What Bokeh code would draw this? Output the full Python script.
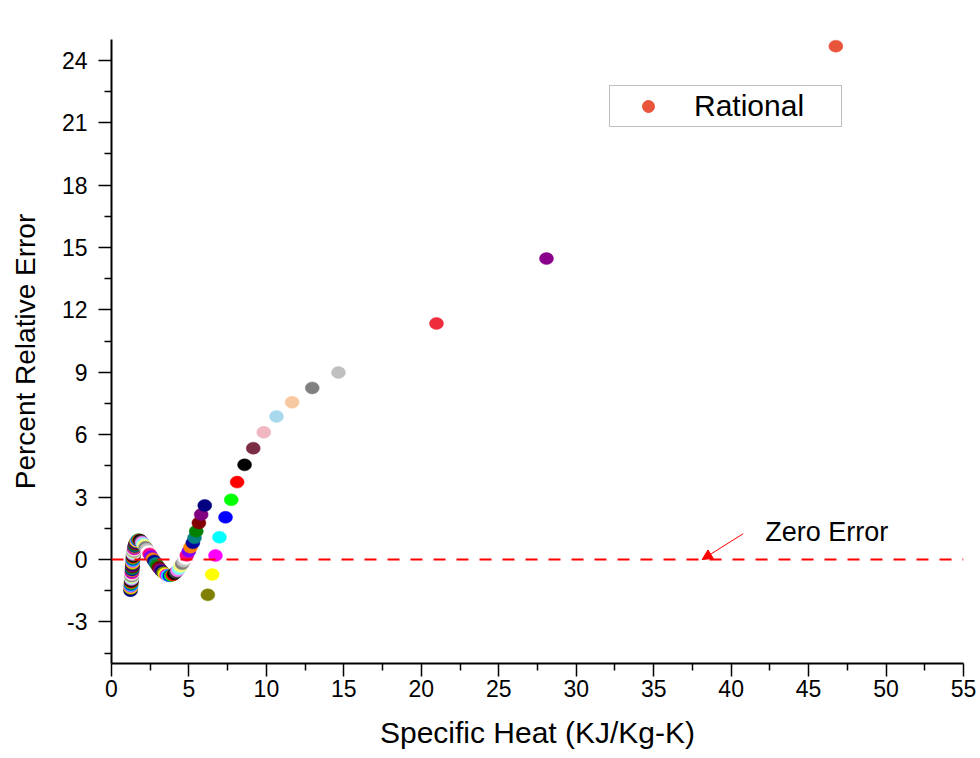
from bokeh.plotting import figure
from bokeh.models import (Range1d, FixedTicker, Span, Arrow, NormalHead, Label,
                          Legend, LegendItem, ColumnDataSource)
from bokeh.embed import file_html
from bokeh.resources import INLINE

# ---------------- data ----------------
# high-error points (x ascending)
outlier_x = [9.15, 9.83, 10.65, 11.66, 12.96, 14.65, 20.98, 28.08, 46.76]
outlier_y = [5.35, 6.12, 6.875, 7.56, 8.25, 8.99, 11.35, 14.47, 24.68]
outlier_colors = ["#7B2D43", "#F0B7C0", "#A8D8EC", "#F8C8A0", "#808080",
                  "#C0C0C0", "#EE2C3C", "#8B008B", "#E8553B"]

# main sequence of points, ordered by decreasing specific heat
seq_x = [8.59, 8.11, 7.73, 7.36, 6.97, 6.71, 6.50, 6.22,
         6.02, 5.79, 5.64, 5.47, 5.36, 5.25, 5.10, 4.99, 4.86, 4.76,
         4.66, 4.56, 4.46, 4.36, 4.26, 4.16, 4.06, 3.96, 3.86, 3.76,
         3.66, 3.56, 3.46, 3.36, 3.26, 3.16, 3.06, 2.96, 2.86, 2.76,
         2.66, 2.56, 2.46, 2.37, 2.28, 2.20, 2.12, 2.05, 1.98, 1.92,
         1.86, 1.80, 1.75,
         1.72, 1.69, 1.66, 1.63, 1.61, 1.59, 1.57, 1.55, 1.53, 1.52,
         1.50, 1.49, 1.48, 1.47, 1.46, 1.45, 1.44, 1.43, 1.42,
         1.41, 1.40, 1.40, 1.39, 1.39, 1.38, 1.38, 1.37, 1.37, 1.36,
         1.36, 1.35, 1.35, 1.34, 1.34, 1.33, 1.33, 1.32, 1.32, 1.31,
         1.31, 1.30, 1.30, 1.29, 1.29, 1.28, 1.28, 1.27, 1.27, 1.26,
         1.26, 1.25, 1.25, 1.24, 1.23]
seq_y = [4.55, 3.72, 2.87, 2.03, 1.07, 0.19, -0.72, -1.70,
         2.60, 2.16, 1.76, 1.36, 1.04, 0.80, 0.59, 0.40, 0.20, 0.05,
         -0.08, -0.21, -0.33, -0.44, -0.54, -0.62, -0.69, -0.74, -0.77, -0.78,
         -0.77, -0.74, -0.69, -0.63, -0.56, -0.48, -0.39, -0.29, -0.18, -0.07,
         0.04, 0.15, 0.27, 0.38, 0.49, 0.59, 0.68, 0.76, 0.83, 0.88,
         0.92, 0.94, 0.95,
         0.94, 0.93, 0.91, 0.88, 0.85, 0.82, 0.78, 0.74, 0.70, 0.66,
         0.62, 0.58, 0.54, 0.50, 0.46, 0.42, 0.38, 0.34, 0.30,
         0.25, 0.20, 0.15, 0.10, 0.05, 0.00, -0.05, -0.10, -0.15, -0.20,
         -0.25, -0.30, -0.35, -0.40, -0.45, -0.50, -0.55, -0.60, -0.65, -0.70,
         -0.75, -0.80, -0.85, -0.90, -0.95, -1.00, -1.05, -1.10, -1.15, -1.20,
         -1.25, -1.30, -1.35, -1.40, -1.50]

# Origin-style colour increment list
palette = ["#000000", "#FF0000", "#00FF00", "#0000FF", "#00FFFF", "#FF00FF",
           "#FFFF00", "#808000", "#000080", "#800080", "#800000", "#008000",
           "#008080", "#0000A0", "#FF8000", "#8000FF", "#FF0080", "#FFFFFF",
           "#C0C0C0", "#808080", "#FFFF80", "#80FFFF", "#FF80FF", "#404040"]

x_ticks = [0, 5, 10, 15, 20, 25, 30, 35, 40, 45, 50, 55]
x_minor = [2.5, 7.5, 12.5, 17.5, 22.5, 27.5, 32.5, 37.5, 42.5, 47.5, 52.5]
y_ticks = [-3, 0, 3, 6, 9, 12, 15, 18, 21, 24]
y_minor = [-4.5, -1.5, 1.5, 4.5, 7.5, 10.5, 13.5, 16.5, 19.5, 22.5]
y_tick_labels = {t: str(t) for t in y_ticks}   # plain hyphen-minus as in the original

series_name = "Rational"
legend_color = "#E8553B"
zero_level = 0
arrow_from = (40.78, 1.24)
arrow_to = (38.13, 0.0)
note_pos = (42.2, 1.31)
note_text = "Zero Error"

# ---------------- figure ----------------
FONT = "Liberation Sans"
p = figure(width=980, height=758, x_range=Range1d(0, 55), y_range=Range1d(-5, 25),
           output_backend="svg", toolbar_location=None,
           min_border_left=111, min_border_right=17, min_border_top=39,
           min_border_bottom=95)
p.outline_line_color = None
p.xgrid.visible = False
p.ygrid.visible = False
p.background_fill_color = "white"
p.border_fill_color = "white"

p.xaxis.ticker = FixedTicker(ticks=x_ticks, minor_ticks=x_minor)
p.yaxis.ticker = FixedTicker(ticks=y_ticks, minor_ticks=y_minor)
p.yaxis.major_label_overrides = y_tick_labels
for ax in (p.xaxis[0], p.yaxis[0]):
    ax.axis_line_width = 2
    ax.axis_line_color = "black"
    ax.major_tick_line_width = 1.5
    ax.minor_tick_line_width = 1.5
    ax.major_tick_out = 13
    ax.major_tick_in = 0
    ax.minor_tick_out = 7
    ax.minor_tick_in = 0
    ax.major_label_text_font = FONT
    ax.major_label_text_font_size = "23px"
    ax.major_label_text_color = "black"
    ax.axis_label_text_font = FONT
    ax.axis_label_text_font_style = "normal"
    ax.axis_label_text_color = "black"

p.xaxis.axis_label = "Specific Heat (KJ/Kg-K)"
p.xaxis.axis_label_text_font_size = "30px"
p.xaxis.major_label_standoff = 3
p.xaxis.axis_label_standoff = 16
p.yaxis.axis_label = "Percent Relative Error"
p.yaxis.axis_label_text_font_size = "28px"
p.yaxis.major_label_standoff = 11
p.yaxis.axis_label_standoff = 18

# zero-error reference line
p.add_layout(Span(location=zero_level, dimension="width", line_color="#FF0000",
                  line_width=2, line_dash="12 11"))

# points: drawn in ascending x so higher-x points sit on top
seq_colors = [palette[i % len(palette)] for i in range(len(seq_x))]
src = ColumnDataSource(dict(x=seq_x[::-1], y=seq_y[::-1], c=seq_colors[::-1]))
p.ellipse(x="x", y="y", width=14, height=12, width_units="screen",
          height_units="screen", fill_color="c", line_color="c", line_width=0.5,
          source=src)
src2 = ColumnDataSource(dict(x=outlier_x, y=outlier_y, c=outlier_colors))
p.ellipse(x="x", y="y", width=14, height=12, width_units="screen",
          height_units="screen", fill_color="c", line_color="c", line_width=0.5,
          source=src2)

# annotation
p.add_layout(Arrow(end=NormalHead(size=10, fill_color="#FF0000", line_color="#FF0000"),
                   x_start=arrow_from[0], y_start=arrow_from[1],
                   x_end=arrow_to[0], y_end=arrow_to[1],
                   line_color="#FF0000", line_width=1))
p.add_layout(Label(x=note_pos[0], y=note_pos[1], text=note_text,
                   text_font=FONT, text_font_size="27px", text_baseline="middle",
                   text_color="black"))

# legend (glyph-only renderer holding no visible point)
nan = float("nan")
dummy = p.scatter(x=[nan], y=[nan], marker="circle", size=12,
                  fill_color=legend_color, line_color=legend_color)
legend = Legend(items=[LegendItem(label=series_name, renderers=[dummy])],
                location=(498, 536), margin=0, padding=3, spacing=0,
                glyph_width=70, glyph_height=30, label_standoff=11,
                label_width=144, label_text_font=FONT,
                label_text_font_size="30px", label_text_color="black",
                border_line_color="#7F7F7F", border_line_width=1,
                background_fill_color="white", background_fill_alpha=1)
p.add_layout(legend, "center")

open("out.html", "w").write(file_html(p, INLINE))
